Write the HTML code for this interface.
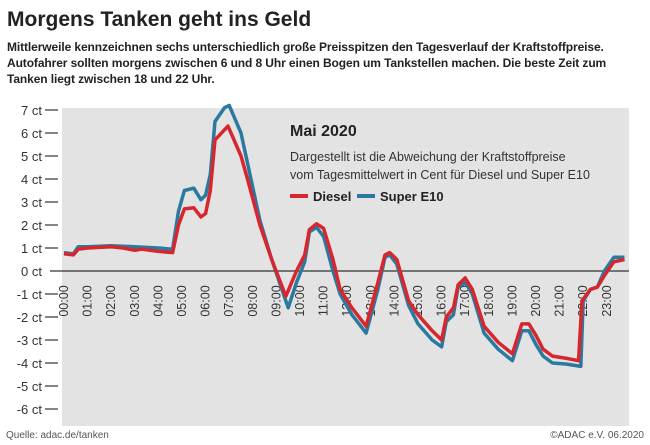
<!DOCTYPE html><html><head><meta charset="utf-8"><style>
body{margin:0;width:650px;height:445px;background:#fff;font-family:"Liberation Sans",sans-serif;overflow:hidden;position:relative}
.t{position:absolute;left:7px;top:8px;font-size:21px;font-weight:bold;color:#222}
.s{position:absolute;left:7px;top:39px;font-size:12px;font-weight:bold;line-height:16px;color:#222;width:640px;letter-spacing:-0.1px}
</style></head><body>
<div class="t">Morgens Tanken geht ins Geld</div>
<div class="s">Mittlerweile kennzeichnen sechs unterschiedlich große Preisspitzen den Tagesverlauf der Kraftstoffpreise. Autofahrer sollten morgens zwischen 6 und 8 Uhr einen Bogen um Tankstellen machen. Die beste Zeit zum Tanken liegt zwischen 18 und 22 Uhr.</div>
<svg width="650" height="445" style="position:absolute;left:0;top:0" font-family="Liberation Sans, sans-serif">
<rect x="62" y="108" width="567" height="318" fill="#e3e3e3"/>
<g font-size="13" fill="#333" text-anchor="end" id="yl"></g>
<line x1="50" y1="271" x2="629" y2="271" stroke="#333" stroke-width="1.2"/>
<g id="xl" font-size="12.5" fill="#333"></g>
<text x="290" y="136" font-size="16" font-weight="bold" fill="#222">Mai 2020</text>
<text x="290" y="161" font-size="12.5" fill="#333">Dargestellt ist die Abweichung der Kraftstoffpreise</text>
<text x="290" y="179" font-size="12.5" fill="#333">vom Tagesmittelwert in Cent für Diesel und Super E10</text>
<line x1="290" y1="196" x2="308" y2="196" stroke="#d7262d" stroke-width="4"/>
<text x="313" y="201" font-size="13" font-weight="bold" fill="#222">Diesel</text>
<line x1="357" y1="196" x2="375" y2="196" stroke="#2a7aa0" stroke-width="4"/>
<text x="380" y="201" font-size="13" font-weight="bold" fill="#222">Super E10</text>
<path id="e10" fill="none" stroke="#2a7aa0" stroke-width="3.5" stroke-linejoin="round"/>
<path id="die" fill="none" stroke="#d7262d" stroke-width="3.5" stroke-linejoin="round"/>
<text x="6" y="438" font-size="10" fill="#555">Quelle: adac.de/tanken</text>
<text x="644" y="438" font-size="10" fill="#555" text-anchor="end">©ADAC e.V.  06.2020</text>
</svg>
<script>
var ns="http://www.w3.org/2000/svg";
function el(t,a,p,txt){var e=document.createElementNS(ns,t);for(var k in a)e.setAttribute(k,a[k]);if(txt)e.textContent=txt;p.appendChild(e);return e;}
var yl=document.getElementById('yl'),xl=document.getElementById('xl');
for(var v=7;v>=-6;v--){var y=271-23*v;el('text',{x:42,y:y+5},yl,v+' ct');if(v!=0)el('line',{x1:45,y1:y,x2:58,y2:y,stroke:'#333','stroke-width':1.2},yl.parentNode);}
function X(h){return 64+23.6*h}function Y(c){return 271-23*c}
for(var h=0;h<24;h++){var x=X(h)+4;el('text',{x:0,y:0,transform:'translate('+x+',301) rotate(-90)','text-anchor':'middle'},xl,(h<10?'0':'')+h+':00');}
var D=[[0,.75],[.4,.7],[.6,.95],[1,1],[2,1.05],[2.5,1],[3,.9],[3.3,.95],[4,.85],[4.6,.8],[4.85,2],[5.1,2.7],[5.5,2.75],[5.8,2.35],[6,2.5],[6.2,3.5],[6.4,5.7],[6.95,6.3],[7.5,5],[7.8,3.9],[8.3,2],[8.8,.5],[9.4,-1.1],[9.85,0],[10.2,.7],[10.4,1.8],[10.7,2.05],[11,1.85],[11.4,.5],[11.7,-.8],[12.2,-1.6],[12.8,-2.4],[13.3,-.5],[13.6,.7],[13.8,.8],[14.1,.5],[14.6,-1.3],[15,-1.9],[15.6,-2.6],[16,-3],[16.2,-2],[16.5,-1.6],[16.7,-.6],[17,-.3],[17.3,-.8],[17.8,-2.4],[18.4,-3.1],[19,-3.6],[19.4,-2.3],[19.7,-2.3],[20,-2.8],[20.3,-3.4],[20.7,-3.7],[21.3,-3.8],[21.8,-3.9],[21.95,-1.3],[22.3,-.8],[22.6,-.7],[22.9,-.2],[23.3,.4],[23.75,.5]];
var E=[[0,.8],[.4,.75],[.6,1.05],[1,1.05],[2,1.1],[3,1.05],[4,1],[4.6,.95],[4.85,2.6],[5.1,3.5],[5.5,3.6],[5.8,3.1],[6,3.3],[6.2,4.2],[6.4,6.5],[6.8,7.1],[7,7.2],[7.5,6],[8.3,2.2],[8.8,.5],[9.5,-1.6],[9.85,-.5],[10.2,.4],[10.4,1.7],[10.7,1.9],[11,1.5],[11.4,0],[11.7,-1],[12.2,-1.9],[12.8,-2.7],[13.3,-.8],[13.6,.6],[13.8,.7],[14.1,.3],[14.6,-1.5],[15,-2.3],[15.6,-3],[16,-3.3],[16.2,-2.2],[16.5,-1.9],[16.7,-.7],[17,-.5],[17.3,-1],[17.8,-2.7],[18.4,-3.4],[19,-3.9],[19.4,-2.6],[19.7,-2.6],[20,-3.2],[20.3,-3.7],[20.7,-4],[21.3,-4.05],[21.9,-4.15],[22,-1.3],[22.3,-.8],[22.6,-.7],[22.9,0],[23.3,.6],[23.75,.6]];
function P(a){return a.map(function(p,i){return(i?'L':'M')+X(p[0]).toFixed(1)+','+Y(p[1]).toFixed(1)}).join('')}
document.getElementById('die').setAttribute('d',P(D));document.getElementById('e10').setAttribute('d',P(E));
</script>
</body></html>
